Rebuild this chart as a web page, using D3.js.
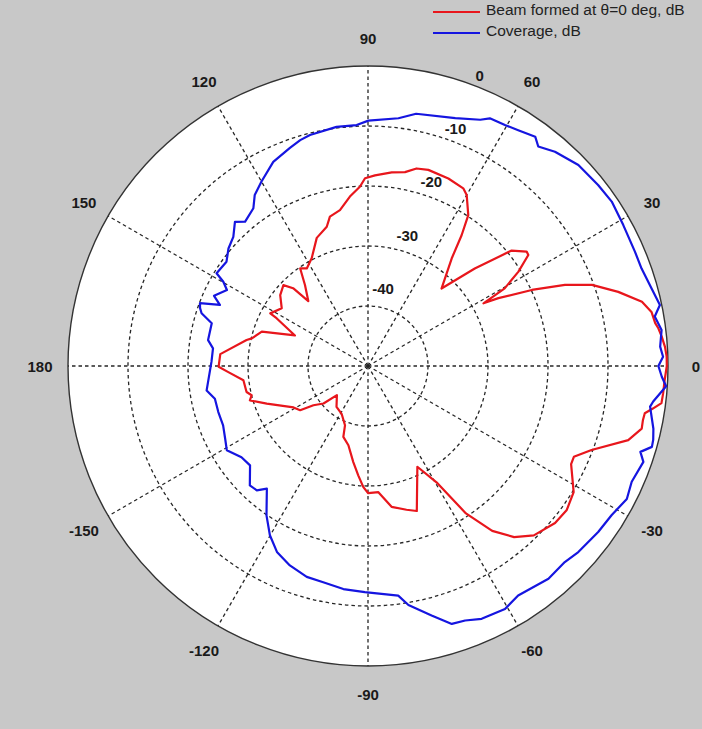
<!DOCTYPE html>
<html>
<head>
<meta charset="utf-8">
<script src="https://cdn.jsdelivr.net/npm/d3@7"></script>
<style>
  body { margin: 0; background: #c8c8c8; }
  text { font-family: "Liberation Sans", Arial, sans-serif; }
</style>
</head>
<body>
<div id="chart"></div>
<script>
var svgWidth = 702;
var svgHeight = 729;

// angle in degrees (ccw from 0 = right), gain in dB
var beamAngle = [0, 1.8, 3.7, 5.7, 7.4, 8.5, 10.8, 13.2, 16.5, 19.9, 22.4, 24.9, 27.5, 28.5, 29.6, 32.1, 34.7, 35.8, 38.8, 42.4, 46.5,
  52.1, 54.4, 56.4, 60.0, 61.8, 66.8, 72.9, 76.2, 79.2, 83.0, 87.9, 90.9, 92.6, 96.1, 100.2, 104.3, 106.5, 111.8, 117.5, 122.1,
  124.8, 127.9, 132.6, 133.9, 136.3, 141.1, 146.2, 151.7, 152.4, 157.3, 162.1, 166.6, 167.9, 175.4, 180.3, 182.5, 186.5, 192.1,
  194.1, 196.2, 200.4, 209.1, 213.1, 215.7, 220.1, 223.1, 232.4, 241.1, 248.8, 250.8, 256.1, 261.3, 264.9, 267.8, 270.1, 274.7,
  279.5, 285.0, 288.6, 296.1, 300.5, 303.6, 307.0, 310.5, 314.4, 320.0, 324.1, 328.5, 334.2, 336.2, 339.4, 344.1, 347.1, 348.9,
  350.3, 351.5, 352.8, 354.7, 357.3];
var beamDb = [-0.2, -0.2, -0.4, -0.8, -1.2, -1.6, -1.9, -3.1, -6.5, -10.3, -14.5, -19.9, -25.5, -28.1, -23.8, -20.4, -17.5, -17.4, -19.3, -25.9, -32.2,
  -27.3, -23.2, -19.8, -17.1, -16.4, -16.0, -15.8, -16.1, -17.1, -17.5, -18.2, -18.7, -20.1, -21.6, -23.6, -24.3, -25.8, -27.0, -29.7, -30.8,
  -30.2, -32.9, -35.3, -32.0, -30.5, -31.2, -32.7, -31.5, -32.8, -36.8, -31.4, -30.1, -29.3, -25.3, -25.1, -26.7, -29.1, -29.3,
  -30.0, -29.5, -32.0, -35.8, -36.5, -38.8, -40.3, -42.9, -41.4, -40.9, -39.4, -37.5, -36.4, -33.8, -31.7, -29.8, -28.8, -28.9,
  -26.2, -25.2, -24.5, -31.3, -27.5, -20.5, -15.6, -12.5, -10.5, -9.3, -9.1, -9.8, -12.4, -12.5, -10.2, -4.9, -3.2, -3.3,
  -3.2, -2.0, -0.7, -0.6, -0.5];

var coverAngle = [0, 1.8, 3.8, 7.0, 9.8, 11.8, 15.3, 19.6, 23.2, 28.9, 34.0, 38.2, 43.7, 48.9, 52.2, 53.9, 57.5, 60.4, 63.8, 65.5,
  70.6, 79.2, 83.0, 89.9, 92.7, 97.5, 104.1, 106.7, 109.7, 114.9, 120.0, 123.5, 126.0, 130.4, 132.7, 136.2, 139.9, 143.6, 148.5,
  149.8, 151.7, 155.5, 157.6, 159.5, 161.0, 162.4, 164.7, 170.8, 173.5, 178.5, 188.6, 192.1, 197.1, 202.3, 206.9, 210.8, 215.8,
  220.1, 225.3, 228.2, 230.5, 235.8, 239.9, 243.9, 248.6, 253.8, 258.3, 263.7, 269.2, 277.5, 279.6, 284.3, 288.0, 290.9, 294.2,
  299.4, 303.2, 310.3, 315.1, 318.5, 324.2, 328.5, 332.8, 336.3, 340.8, 342.5, 344.1, 345.5, 347.6, 351.8, 352.9, 356.1, 357.9];
var coverDb = [-1.6, -0.8, -1.2, -0.7, -1.5, -0.3, -1.0, -1.6, -1.6, -1.4, -1.0, -1.2, -1.5, -2.6, -3.7, -2.7, -3.4, -3.8, -4.0, -4.9,
  -6.2, -7.2, -8.4, -9.1, -9.8, -9.8, -10.3, -10.7, -11.4, -12.5, -14.5, -15.8, -17.5, -18.4, -17.3, -18.9, -19.6, -20.7, -20.4,
  -22.1, -23.3, -21.8, -23.3, -20.1, -20.4, -20.9, -23.0, -23.0, -24.0, -23.9, -22.8, -23.9, -23.9, -23.9, -23.3, -22.6, -24.0,
  -24.3, -22.0, -22.2, -23.5, -19.9, -17.4, -15.5, -14.3, -13.4, -13.2, -12.6, -12.3, -11.4, -9.6, -7.1, -4.8, -4.6, -3.8,
  -3.5, -4.3, -3.5, -3.7, -3.2, -2.7, -2.4, -1.5, -2.0, -1.4, -2.4, -0.8, -0.9, -1.3, -2.5, -2.1, -0.2, -1.0];

var ringTicks = [-40, -30, -20, -10, 0];
var spokeAngles = [0, 30, 60, 90, 120, 150, 180, 210, 240, 270, 300, 330];
var spokeLabels = ["0", "30", "60", "90", "120", "150", "180", "-150", "-120", "-90", "-60", "-30"];
var seriesNames = ["Beam formed at \u03b8=0 deg, dB", "Coverage, dB"];
var seriesColors = ["#e8161c", "#1515e0"];

var cx = 368, cy = 366;

var svg = d3.select("#chart")
  .append("svg")
  .attr("width", svgWidth)
  .attr("height", svgHeight);

svg.append("rect")
  .attr("width", svgWidth)
  .attr("height", svgHeight)
  .attr("fill", "#c8c8c8");

var g = svg.append("g")
  .attr("transform", `translate(${cx}, ${cy})`);

var rScale = d3.scaleLinear()
  .domain([-50, 0])
  .range([0, 300]);

var toRad = d => d * Math.PI / 180;

// white disc
g.append("circle")
  .attr("r", rScale(0))
  .attr("fill", "white");

// dashed rings
g.selectAll(".ring")
  .data(ringTicks.filter(d => d < 0))
  .enter()
  .append("circle")
  .attr("r", d => rScale(d))
  .attr("fill", "none")
  .attr("stroke", "#262626")
  .attr("stroke-width", 1.3)
  .attr("stroke-dasharray", "3.5,3");

// spokes
g.selectAll(".spoke")
  .data(spokeAngles)
  .enter()
  .append("line")
  .attr("x1", 0).attr("y1", 0)
  .attr("x2", d => rScale(0) * Math.cos(toRad(d)))
  .attr("y2", d => -rScale(0) * Math.sin(toRad(d)))
  .attr("stroke", "#262626")
  .attr("stroke-width", 1.3)
  .attr("stroke-dasharray", "3.5,3");

// outer circle
g.append("circle")
  .attr("r", rScale(0))
  .attr("fill", "none")
  .attr("stroke", "#333")
  .attr("stroke-width", 1.4);

// curves
var radial = d3.lineRadial()
  .angle(d => toRad(90 - d.a))
  .radius(d => rScale(d.db))
  .curve(d3.curveLinearClosed);

var beam = beamAngle.map((a, i) => ({a: a, db: beamDb[i]}));
var cover = coverAngle.map((a, i) => ({a: a, db: coverDb[i]}));

[beam, cover].forEach(function(series, i) {
  g.append("path")
    .datum(series)
    .attr("d", radial)
    .attr("fill", "none")
    .attr("stroke", seriesColors[i])
    .attr("stroke-width", 2.2)
    .attr("stroke-linejoin", "round");
});

// ring labels
g.selectAll(".rlabel")
  .data(ringTicks)
  .enter()
  .append("text")
  .attr("x", d => -9 + 0.402 * rScale(d))
  .attr("y", d => -24.4 - 0.888 * rScale(d))
  .attr("text-anchor", "middle")
  .attr("dominant-baseline", "central")
  .attr("font-size", 15)
  .attr("font-weight", "bold")
  .attr("fill", "#1a1a1a")
  .text(d => d);

// angle labels
g.selectAll(".alabel")
  .data(spokeAngles)
  .enter()
  .append("text")
  .attr("x", d => 328 * Math.cos(toRad(d)))
  .attr("y", d => -328 * Math.sin(toRad(d)))
  .attr("text-anchor", "middle")
  .attr("dominant-baseline", "central")
  .attr("font-size", 15)
  .attr("font-weight", "bold")
  .attr("fill", "#1a1a1a")
  .text((d, i) => spokeLabels[i]);

// legend
var legend = svg.append("g").attr("transform", "translate(433, 12)");
seriesNames.forEach(function(name, i) {
  legend.append("line")
    .attr("x1", 0).attr("x2", 47)
    .attr("y1", i * 21).attr("y2", i * 21)
    .attr("stroke", seriesColors[i])
    .attr("stroke-width", 2.2);
  legend.append("text")
    .attr("x", 53)
    .attr("y", i * 21 + 3)
    .attr("font-size", 15.5)
    .attr("fill", "#222")
    .text(name);
});
</script>
</body>
</html>
